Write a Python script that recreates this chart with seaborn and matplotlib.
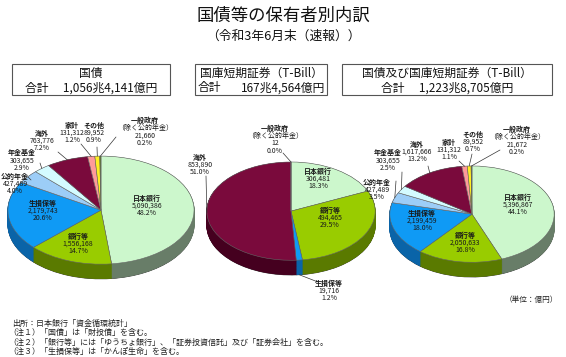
import numpy as np
import matplotlib
matplotlib.use("Agg")
import matplotlib.pyplot as plt
import matplotlib.patches as mpatches
from matplotlib.transforms import Affine2D
import seaborn as sns

sns.set_theme(style="white")
plt.rcParams['font.family'] = ['Noto Sans CJK JP', 'DejaVu Sans']

# ---------------- data ----------------
categories = ["日本銀行", "銀行等", "生損保等", "公的年金", "年金基金", "海外", "家計", "その他", "一般政府"]
jgb_values = [5090386, 1556168, 2179743, 427489, 303655, 763776, 131312, 89952, 21660]
tbill_categories = ["日本銀行", "銀行等", "生損保等", "海外", "一般政府"]
tbill_values = [306481, 494465, 19716, 853890, 12]
total_values = [5396867, 2050633, 2199459, 427489, 303655, 1617666, 131312, 89952, 21672]

box_titles = ["国債", "国庫短期証券（T-Bill）", "国債及び国庫短期証券（T-Bill）"]
box_totals = ["1,056兆4,141億円", "167兆4,564億円", "1,223兆8,705億円"]

top_colors = {"日本銀行": "#ccf7cc", "銀行等": "#99cc00", "生損保等": "#0f9af5",
              "公的年金": "#9ccdf7", "年金基金": "#d4fbff", "海外": "#7a0a3c",
              "家計": "#ff9a9a", "その他": "#ffee22", "一般政府": "#5a7a20"}
side_colors = {"日本銀行": "#687d68", "銀行等": "#5a7a00", "生損保等": "#0a64a8",
               "公的年金": "#5b84a8", "年金基金": "#7fa0a8", "海外": "#45001f",
               "家計": "#a05a5a", "その他": "#a09010", "一般政府": "#304010"}

W, H = 566, 357
fig = plt.figure(figsize=(W / 100, H / 100), dpi=100)
fig.patch.set_facecolor("white")
PX = Affine2D().scale(1.0 / W, -1.0 / H).translate(0, 1) + fig.transFigure

FS = 5.0
LS = 7.6


def txt(x, y, s, **kw):
    kw.setdefault("transform", PX)
    kw.setdefault("ha", "center")
    kw.setdefault("va", "center")
    fig.text(x, y, s, **kw)


# ---------------- titles ----------------
txt(283, 16, "国債等の保有者別内訳", fontsize=12.5, color="#111111")
txt(283, 36, "（令和3年6月末（速報））", fontsize=9.2, color="#111111")

# ---------------- boxes ----------------
boxes = [(12, 170), (195, 327), (342, 552)]
for (x0, x1), title, tot in zip(boxes, box_titles, box_totals):
    r = mpatches.Rectangle((x0, 64), x1 - x0, 31, transform=PX, fill=False,
                           edgecolor="#555555", lw=0.8)
    fig.add_artist(r)
    xc = (x0 + x1) / 2
    txt(xc, 73, title, fontsize=8.5, color="#111111")
    if x0 == 195:
        txt(x0 + 3, 88, "合計", fontsize=8.5, ha="left", color="#111111")
        txt(x1 - 2, 88, tot, fontsize=8.5, ha="right", color="#111111")
    else:
        txt(xc, 88, "合計　 " + tot, fontsize=8.5, color="#111111")


# ---------------- pies ----------------
def draw_pie(cx, cy, rx, ry, depth, cats, vals):
    ax = fig.add_axes([(cx - rx) / W, 1 - (cy + ry + depth) / H, 2 * rx / W, (2 * ry + depth) / H])
    d = depth / ry
    top = [top_colors[c] for c in cats]
    side = [side_colors[c] for c in cats]
    layers = np.linspace(d, 0, 36)[:-1]
    for j, k in enumerate(layers):
        ws, _ = ax.pie(vals, colors=side, startangle=90, counterclock=False, center=(0, -k),
                       radius=1, wedgeprops=dict(linewidth=0.6))
        for w in ws:
            w.set_edgecolor("#333333" if j == 0 else w.get_facecolor())
            if j == 0:
                w.set_linewidth(0.5)
    wedges, _ = ax.pie(vals, colors=top, startangle=90, counterclock=False,
                       radius=1, wedgeprops=dict(linewidth=0.4, edgecolor="#666666"))
    ax.set_aspect("auto")
    ax.set_xlim(-1.01, 1.01)
    ax.set_ylim(-1 - d - 0.02, 1.02)
    ax.axis("off")
    return ax, wedges, d


def place_label(x, y, cat, v, total):
    lines = ["一般政府", "（除く公的年金）"] if cat == "一般政府" else [cat]
    lines += [f"{v:,}", f"{v / total * 100:.1f}%"]
    for i, s in enumerate(lines):
        w = "bold" if i == 0 else "normal"
        txt(x, y + i * LS, s, fontsize=FS, fontweight=w, color="#1a1a1a")


def leader(ax, wedge, anchor, d, side=False):
    th = np.deg2rad((wedge.theta1 + wedge.theta2) / 2)
    px, py = np.cos(th), np.sin(th) - (d if side else 0)
    ax.annotate("", xy=(px, py), xycoords="data", xytext=anchor, textcoords=PX,
                arrowprops=dict(arrowstyle="-", lw=0.5, color="#333333",
                                shrinkA=0, shrinkB=0), annotation_clip=False)


charts = [
    dict(geom=(101, 210, 94, 55, 15), cats=categories, vals=jgb_values,
         labels={"日本銀行": (147, 198, None), "銀行等": (78, 236, None), "生損保等": (43, 203, None),
                 "一般政府": (145, 120, (116, 137)), "その他": (94, 125, (97, 147)),
                 "家計": (72, 125, (81, 144)), "海外": (42, 133, (58, 152)),
                 "年金基金": (22, 153, (40, 163)), "公的年金": (15, 176, (31, 180))}),
    dict(geom=(291, 211, 85, 50, 15), cats=tbill_categories, vals=tbill_values,
         labels={"日本銀行": (318, 171, None), "銀行等": (330, 210, None),
                 "生損保等": (329, 283, (318, 282), True), "海外": (200, 157, (206, 176)),
                 "一般政府": (275, 128, (283, 153))}),
    dict(geom=(472, 214, 83, 49, 15), cats=categories, vals=total_values,
         labels={"日本銀行": (518, 197, None), "銀行等": (465, 235, None), "生損保等": (422, 213, None),
                 "一般政府": (517, 129, (500, 150)), "その他": (473, 134, (472, 154)),
                 "家計": (449, 142, (459, 161)), "海外": (417, 144, (428, 166)),
                 "年金基金": (388, 153, (402, 172)), "公的年金": (377, 182, (396, 181))}),
]

for ch in charts:
    ax, wedges, d = draw_pie(*ch["geom"], ch["cats"], ch["vals"])
    total = sum(ch["vals"])
    for cat, spec in ch["labels"].items():
        i = ch["cats"].index(cat)
        x, y, anchor = spec[0], spec[1], spec[2]
        side = spec[3] if len(spec) > 3 else False
        place_label(x, y, cat, ch["vals"][i], total)
        if anchor is not None:
            leader(ax, wedges[i], anchor, d, side)

# ---------------- notes ----------------
txt(558, 300, "（単位：億円）", fontsize=5.5, ha="right", color="#222222")
notes = ["出所：日本銀行「資金循環統計」",
         "（注１）「国債」は「財投債」を含む。",
         "（注２）「銀行等」には「ゆうちょ銀行」、「証券投資信託」及び「証券会社」を含む。",
         "（注３）「生損保等」は「かんぽ生命」を含む。"]
for i, s in enumerate(notes):
    txt(12 if i == 0 else 8, 323 + i * 9.5, s, fontsize=5.8, ha="left", color="#222222")

fig.savefig("out.png", dpi=100, facecolor="white")
